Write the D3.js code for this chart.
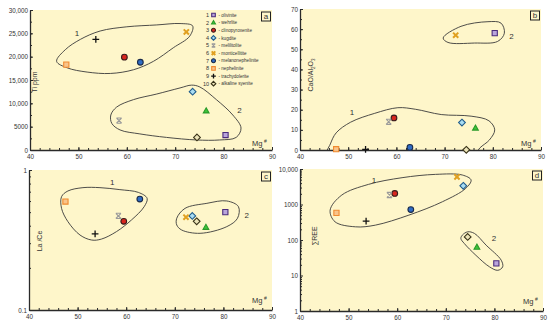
<!DOCTYPE html>
<html lang="en">
<head>
<meta charset="UTF-8">
<script src="https://d3js.org/d3.v7.min.js"></script>
<title>Mg# diagrams</title>
<style>
  body { margin: 0; background: #fff; }
  text { font-family: "Liberation Sans", Arial, sans-serif; fill: #333; }
</style>
</head>
<body>
<svg id="chart" width="550" height="330"></svg>
<script>
// rock types, numbered 1..10 as in the legend
const rocks = ["olivinite", "wehrlite", "clinopyroxenite", "kugdite", "melilitolite",
  "monticellitite", "melanonephelinite", "nephelinite", "trachydolerite", "alkaline syenite"];

// values
const mgNumber = [80.4, 76.4, 59.5, 73.6, 58.4, 72.3, 62.8, 47.5, 53.6, 74.5];
const tiPpm    = [3200, 8400, 19900, 12500, 6300, 25300, 18800, 18300, 23700, 2700];
const caoAl2o3 = [58, 10.9, 15.9, 13.6, 14, 57, 1.3, 0.4, 0.3, 0.1];
const laCe     = [0.50, 0.39, 0.43, 0.47, 0.47, 0.46, 0.62, 0.595, 0.35, 0.43];
const sumRee   = [22, 63, 2050, 3350, 1850, 6000, 720, 580, 340, 122];

// tick values / labels
const mgTicks = [40, 50, 60, 70, 80, 90];
const tiTicks = [0, 5000, 10000, 15000, 20000, 25000, 30000];
const tiLabels = ["0", "5000", "10,000", "15,000", "20,000", "25,000", "30,000"];
const caTicks = [0, 10, 20, 30, 40, 50, 60, 70];
const laTicks = [0.1, 1];
const laLabels = ["0.1", "1"];
const reeTicks = [1, 10, 100, 1000, 10000];
const reeLabels = ["1", "10", "100", "1000", "10,000"];

// field outlines (Mg#, value)
const tiField1 = [[45.5,19000],[47.3,21500],[50.4,23700],[54.5,25500],[60,26400],[66.2,26800],[71,27100],
  [73.6,26600],[73,24400],[69.6,21900],[65.5,19000],[61.4,17200],[56.6,16400],[51.8,16700],[47.7,17600]];
const tiField2 = [[56.7,7500],[57.9,9200],[61.4,10800],[66.2,12000],[71,13300],[73.4,13900],[75.1,13500],
  [78.5,10800],[81.9,7500],[83.6,4700],[82.6,2700],[79.2,2150],[74.4,2150],[68.2,2700],[62.7,3450],
  [58.6,4300],[56.9,5700]];
const caField1 = [[45.5,-3],[46.3,3],[47.5,8.5],[50.5,13.8],[55.5,18.2],[60.3,21],[64,20.2],[69.3,17.6],
  [75.5,16.8],[79.2,14.5],[80.4,10],[79.3,5],[77.3,1],[76,-3],[60,-6]];
const caField2 = [[69.7,55.6],[73.4,61.4],[79,63.7],[81.7,63],[82.4,58],[81,53.9],[76.2,53.1],[70.7,53.4]];
const laField1 = [[46.7,0.645],[48,0.708],[51.1,0.748],[54.6,0.748],[58.7,0.724],[62.5,0.692],[64.3,0.628],
  [63.7,0.547],[61.1,0.44],[58,0.363],[54.9,0.321],[52.9,0.316],[50.5,0.343],[48,0.428],[46.7,0.532]];
const laField2 = [[70.4,0.452],[72.1,0.532],[76.6,0.578],[80.7,0.601],[83.1,0.547],[82.9,0.452],
  [80.7,0.394],[75.2,0.353],[71.4,0.373],[70.4,0.405]];
const reeField1 = [[46.2,695],[48.6,1845],[54.1,3690],[61,5690],[67.9,7060],[73.4,6770],[75.2,4890],
  [74.1,2845],[69.3,1195],[62.4,502],[55.5,262],[51.4,235],[47.2,326]];
const reeField2 = [[73.4,137],[74.5,170],[75.9,153],[78.3,71.5],[81.4,27],[81.7,17.5],[80.7,14],
  [79,17.5],[76.2,37],[73.8,80],[73.1,110]];

// marker looks (shape, fill, stroke)
const markers = [
  {shape: "square",   fill: "#b9a4dc", stroke: "#4a2c7c"},
  {shape: "triangle", fill: "#3ec43a", stroke: "#2a9a2a"},
  {shape: "circle",   fill: "#d8261e", stroke: "#3a1c1c"},
  {shape: "diamond",  fill: "#a8dcf2", stroke: "#1f5c8c"},
  {shape: "hourglass",fill: "none",    stroke: "#9a9a9a"},
  {shape: "cross",    fill: "none",    stroke: "#e0a020"},
  {shape: "circle",   fill: "#2f6cc4", stroke: "#1a2a4a"},
  {shape: "square",   fill: "#f9c48a", stroke: "#f08a30"},
  {shape: "plus",     fill: "none",    stroke: "#111"},
  {shape: "diamond",  fill: "#ece4b8", stroke: "#383218"}
];

const svg = d3.select("#chart");

function markerPath(shape, s) {
  if (shape == "square") return `M${-s},${-s}H${s}V${s}H${-s}Z`;
  if (shape == "triangle") return `M0,${-s*1.15}L${s*1.1},${s*0.8}L${-s*1.1},${s*0.8}Z`;
  if (shape == "circle") return d3.symbol(d3.symbolCircle, Math.PI*s*s*1.2)();
  if (shape == "diamond") return `M0,${-s*1.3}L${s*1.3},0L0,${s*1.3}L${-s*1.3},0Z`;
  if (shape == "hourglass") return `M${-s},${-s}H${s}M${-s},${s}H${s}M${-s},${-s}L${s},${s}M${s},${-s}L${-s},${s}`;
  if (shape == "cross") return `M${-s},${-s}L${s},${s}M${s},${-s}L${-s},${s}`;
  if (shape == "plus") return `M0,${-s*1.3}V${s*1.3}M${-s*1.3},0H${s*1.3}`;
}

function drawMarker(g, i, px, py, s) {
  const m = markers[i];
  const thick = m.shape == "cross" ? 2 : (m.shape == "plus" ? 1.3 : 1.1);
  g.append("path")
    .attr("d", markerPath(m.shape, s))
    .attr("transform", `translate(${px},${py})`)
    .attr("fill", m.fill)
    .attr("stroke", m.stroke)
    .attr("stroke-width", thick);
}

function panel(cfg) {
  const g = svg.append("g");
  const x = d3.scaleLinear().domain([40, 90]).range([cfg.left, cfg.right]);
  const y = (cfg.log ? d3.scaleLog() : d3.scaleLinear()).domain(cfg.yDomain).range([cfg.bottom, cfg.top]);

  g.append("rect")
    .attr("x", cfg.left).attr("y", cfg.top)
    .attr("width", cfg.right - cfg.left).attr("height", cfg.bottom - cfg.top)
    .attr("fill", "#fef6ca");

  const clipId = "clip" + cfg.letter;
  g.append("clipPath").attr("id", clipId).append("rect")
    .attr("x", cfg.left).attr("y", cfg.top)
    .attr("width", cfg.right - cfg.left).attr("height", cfg.bottom - cfg.top);

  const outline = d3.line()
    .x(d => x(d[0])).y(d => y(d[1]))
    .curve(d3.curveCatmullRomClosed.alpha(0.5));
  cfg.fields.forEach(f => {
    g.append("path")
      .attr("d", outline(f))
      .attr("clip-path", `url(#${clipId})`)
      .attr("fill", "none")
      .attr("stroke", "#3a3a3a")
      .attr("stroke-width", 0.9);
  });

  // x axis, ticks inside
  const xMinor = d3.range(40, 90.1, 2);
  g.append("g").attr("transform", `translate(0,${cfg.bottom})`)
    .call(d3.axisBottom(x).tickValues(xMinor).tickSize(-2).tickSizeOuter(0).tickFormat(""))
    .call(a => a.select(".domain").remove());
  g.append("g").attr("transform", `translate(0,${cfg.bottom})`)
    .call(d3.axisBottom(x).tickValues(mgTicks).tickSize(-3).tickSizeOuter(0).tickPadding(5))
    .call(a => a.select(".domain").attr("stroke-width", 1.3));

  // y axis
  g.append("g").attr("transform", `translate(${cfg.left},0)`)
    .call(d3.axisLeft(y).tickValues(cfg.yMinor).tickSize(-2).tickSizeOuter(0).tickFormat(""))
    .call(a => a.select(".domain").remove());
  g.append("g").attr("transform", `translate(${cfg.left},0)`)
    .call(d3.axisLeft(y).tickValues(cfg.yTicks).tickSize(-3).tickSizeOuter(0).tickPadding(2)
      .tickFormat((d, i) => cfg.yLabels[i]))
    .call(a => a.select(".domain").attr("stroke-width", 1.3));

  g.selectAll(".tick text").attr("font-size", 6.3).attr("fill", "#333")
    .attr("font-family", '"Liberation Sans", Arial, sans-serif');
  g.selectAll(".tick line, .domain").attr("stroke", "#2a2a2a");

  // points
  cfg.values.forEach((v, i) => drawMarker(g, i, x(mgNumber[i]), y(v), 2.6));

  // field numbers
  cfg.fieldLabels.forEach((p, i) => {
    g.append("text").attr("x", x(p[0])).attr("y", y(p[1]))
      .attr("text-anchor", "middle").attr("dy", "0.35em")
      .attr("font-size", 8).text(i + 1);
  });

  // axis titles
  const mg = g.append("text")
    .attr("x", cfg.right - 20).attr("y", cfg.bottom - (cfg.log ? 7 : 4))
    .attr("font-size", 7.5);
  mg.append("tspan").text("Mg");
  mg.append("tspan").attr("dy", -3).attr("dx", 1.5).attr("font-size", 5).text("#");

  const yt = g.append("text")
    .attr("transform", `translate(${cfg.left + cfg.titleDx},${cfg.titleY}) rotate(-90)`)
    .attr("text-anchor", "middle").attr("font-size", 7);
  cfg.title.forEach(t => {
    const sp = yt.append("tspan").text(t[0]);
    if (t[1]) sp.attr("font-size", 4.5).attr("dy", 1.5);
    else if (t[2]) sp.attr("dy", -1.5);
  });

  // panel letter
  g.append("rect")
    .attr("x", cfg.right - 10.5).attr("y", cfg.top + 2)
    .attr("width", 9).attr("height", 9)
    .attr("fill", "none").attr("stroke", "#222").attr("stroke-width", 1);
  g.append("text").attr("x", cfg.right - 6).attr("y", cfg.top + 9.2)
    .attr("text-anchor", "middle").attr("font-size", 8).text(cfg.letter);

  return {g, x, y};
}

const pa = panel({
  letter: "a", left: 30, right: 272, top: 10, bottom: 150,
  yDomain: [0, 30000], yTicks: tiTicks, yLabels: tiLabels, yMinor: d3.range(0, 30001, 2500),
  values: tiPpm, fields: [tiField1, tiField2], fieldLabels: [[49.7, 25100], [83.3, 8600]],
  title: [["Ti ppm"]], titleDx: 7, titleY: 82
});

panel({
  letter: "b", left: 300, right: 541, top: 9, bottom: 150,
  yDomain: [0, 70], yTicks: caTicks, yLabels: caTicks.map(String), yMinor: d3.range(0, 70.1, 5),
  values: caoAl2o3, fields: [caField1, caField2], fieldLabels: [[50.8, 18.6], [83.9, 56.7]],
  title: [["CaO/Al"], ["2", true], ["O", false, true], ["3", true]], titleDx: 13, titleY: 75
});

panel({
  letter: "c", left: 29, right: 272, top: 170, bottom: 310, log: true,
  yDomain: [0.1, 1], yTicks: laTicks, yLabels: laLabels,
  yMinor: [0.2, 0.3, 0.4, 0.5, 0.6, 0.7, 0.8, 0.9],
  values: laCe, fields: [laField1, laField2], fieldLabels: [[57.1, 0.816], [84.8, 0.477]],
  title: [["La /Ce"]], titleDx: 13, titleY: 241
});

panel({
  letter: "d", left: 300, right: 543, top: 169, bottom: 311, log: true,
  yDomain: [1, 10000], yTicks: reeTicks, yLabels: reeLabels,
  yMinor: d3.range(0, 4).flatMap(k => d3.range(2, 10).map(m => m * Math.pow(10, k))),
  values: sumRee, fields: [reeField1, reeField2], fieldLabels: [[55.2, 4890], [79.9, 110]],
  title: [["\u2211REE"]], titleDx: 17, titleY: 236
});

// legend inside panel a
const legend = pa.g.append("g");
rocks.forEach((r, i) => {
  const ly = 15 + i * 7.63;
  legend.append("text").attr("x", 209).attr("y", ly).attr("dy", "0.35em")
    .attr("text-anchor", "end").attr("font-size", 5.5).text(i + 1);
  drawMarker(legend, i, 213.5, ly, 1.8);
  legend.append("text").attr("x", 218.5).attr("y", ly).attr("dy", "0.35em")
    .attr("font-size", 4.6).text("- " + r);
});
</script>
</body>
</html>
